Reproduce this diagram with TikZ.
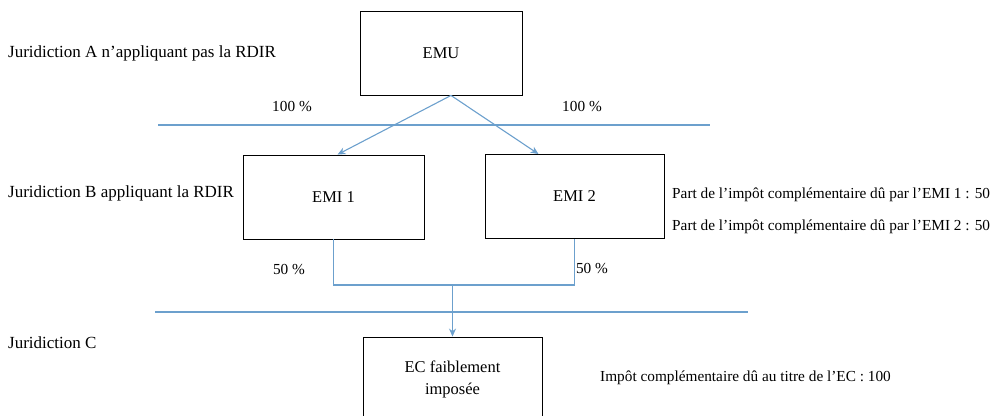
\documentclass[tikz,border=0pt]{standalone}
\usepackage{fontspec}
\setmainfont{Liberation Serif}
\usetikzlibrary{arrows.meta}

\definecolor{linkblue}{RGB}{108,160,205}

\begin{document}
\begin{tikzpicture}[x=1pt,y=-1pt,
    box/.style={draw, line width=0.9pt, minimum width=162pt, minimum height=84pt,
        inner sep=0pt, align=center, font=\fontsize{16.5}{22}\selectfont},
    juri/.style={anchor=west, inner sep=0pt, font=\fontsize{17}{19}\selectfont},
    note/.style={inner sep=0pt, font=\fontsize{15.3}{17}\selectfont},
    sepline/.style={draw=linkblue, line width=1.1pt},
    link/.style={draw=linkblue, line width=1.1pt},
    arr/.style={link, -{Stealth[length=8pt,width=7pt]}}]
    \useasboundingbox (0,0) rectangle (995,415);
    \clip (0,0) rectangle (995,415);

    % entities
    \node[box] (emu) at (441,53) {EMU};
    \node[box, minimum width=181pt] (emi1) at (333.5,197) {EMI 1};
    \node[box, minimum width=179pt] (emi2) at (574.5,196.5) {EMI 2};
    \node[box, minimum width=179pt] (ec) at (452.5,379) {EC faiblement\\impos\'ee};

    % jurisdictions
    \node[juri] (jura) at (8,53) {Juridiction A n’appliquant pas la RDIR};
    \node[juri] (jurb) at (8,193) {Juridiction B appliquant la RDIR};
    \node[juri] (jurc) at (8,343) {Juridiction C};

    % borders between jurisdictions
    \coordinate (ab1) at (158,125);
    \coordinate (ab2) at (710,125);
    \coordinate (bc1) at (155,312);
    \coordinate (bc2) at (748,312);
    \draw[sepline] (ab1) -- (ab2);
    \draw[sepline] (bc1) -- (bc2);

    % holdings
    \draw[arr] ([xshift=10pt]emu.south) -- ([xshift=4pt]emi1.north);
    \draw[arr] ([xshift=10pt]emu.south) -- ([xshift=-36pt]emi2.north);
    \coordinate (join) at (452.5,285);
    \draw[link] (emi1.south) -- (emi1.south |- join) -- (emi2.south |- join) -- (emi2.south);
    \draw[arr] (join) -- (ec.north);

    % shares
    \node[note] (p1) at (292,107) {100 \%};
    \node[note] (p2) at (582,107) {100 \%};
    \node[note] (p3) at (289,270) {50 \%};
    \node[note] (p4) at (592,269) {50 \%};

    % top-up tax
    \node[note, anchor=west] (tax1) at (672,195) {Part de l’impôt complémentaire dû par l’EMI 1 : 50};
    \node[note, anchor=west] (tax2) at (672,227) {Part de l’impôt complémentaire dû par l’EMI 2 : 50};
    \node[note, anchor=west] (tax3) at (600,378) {Impôt complémentaire dû au titre de l’EC : 100};
\end{tikzpicture}
\end{document}
